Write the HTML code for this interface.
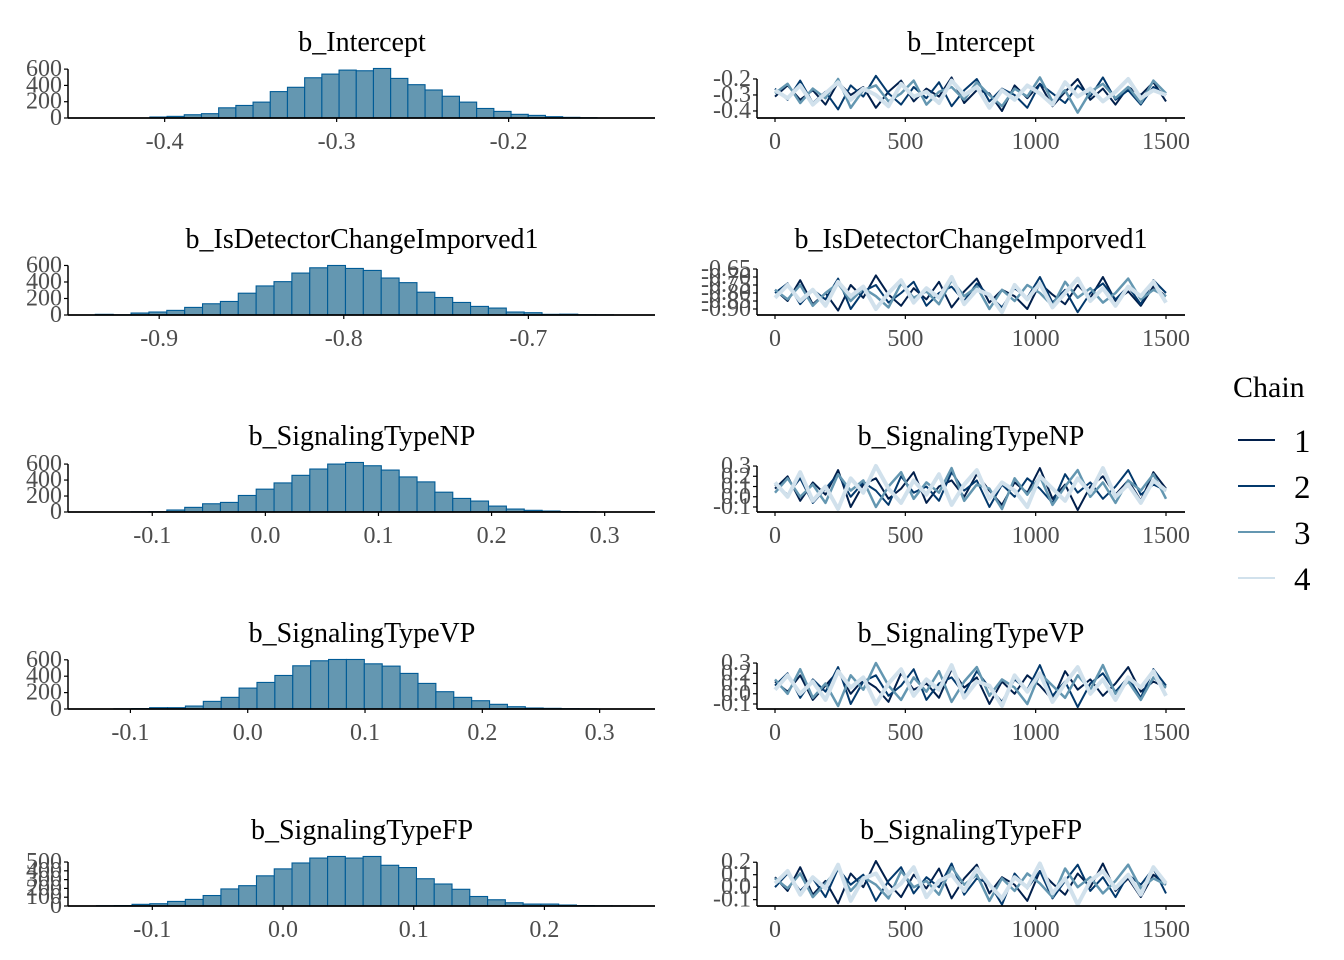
<!DOCTYPE html>
<html><head><meta charset="utf-8">
<style>
html,body{margin:0;padding:0;background:#fff;}
svg{display:block;font-family:"Liberation Serif","DejaVu Serif",serif;}
</style></head>
<body>
<svg id="chart" width="1344" height="960" viewBox="0 0 1344 960" xmlns="http://www.w3.org/2000/svg"></svg>
<script>
// ---- data ----
const paramNames = ["b_Intercept","b_IsDetectorChangeImporved1","b_SignalingTypeNP","b_SignalingTypeVP","b_SignalingTypeFP"];
const histStart = [-0.4086,-0.9346,-0.1187,-0.1141,-0.1427];
const histWidth = [0.0100,0.00968,0.0158,0.01525,0.0136];
const histCounts1 = [12,20,40,53,125,154,195,324,377,494,539,588,580,608,486,409,344,267,195,117,81,45,32,16,8,3];
const histCounts2 = [8,2,24,36,56,92,136,164,264,352,404,508,572,600,564,540,448,392,276,212,152,104,84,36,28,8,10,3,2];
const histCounts3 = [2,4,25,58,103,120,207,286,364,459,538,600,620,579,525,439,377,248,170,137,74,37,21,12,5,2];
const histCounts4 = [2,5,16,16,36,93,142,255,324,409,527,588,604,604,551,523,434,312,211,142,101,57,28,12,8,4,2];
const histCounts5 = [3,5,19,26,52,75,119,194,231,343,422,489,545,563,545,563,463,437,310,250,190,108,71,37,22,22,11,5,3,2];
const histDomain = [[-0.4562,-0.1149],[-0.9494,-0.6314],[-0.1745,0.3445],[-0.1532,0.3472],[-0.1645,0.2846]];
const histXTicks = [[-0.4,-0.3,-0.2],[-0.9,-0.8,-0.7],[-0.1,0.0,0.1,0.2,0.3],[-0.1,0.0,0.1,0.2,0.3],[-0.1,0.0,0.1,0.2]];
const histYTicks = [[0,200,400,600],[0,200,400,600],[0,200,400,600],[0,200,400,600],[0,100,200,300,400,500]];

const iterTicks = [0,500,1000,1500];
const traceYTicks = [[-0.2,-0.3,-0.4],[-0.65,-0.70,-0.75,-0.80,-0.85,-0.90],[0.3,0.2,0.1,0.0,-0.1],[0.3,0.2,0.1,0.0,-0.1],[0.2,0.1,0.0,-0.1]];
const traceDomain = [[-0.444,-0.144],[-0.9375,-0.6375],[-0.149,0.32],[-0.149,0.32],[-0.151,0.234]];

const trace1c1 = [-0.31,-0.24,-0.33,-0.27,-0.36,-0.22,-0.30,-0.25,-0.38,-0.28,-0.21,-0.34,-0.26,-0.31,-0.19,-0.35,-0.27,-0.29,-0.40,-0.24,-0.32,-0.23,-0.37,-0.28,-0.20,-0.33,-0.26,-0.36,-0.25,-0.30,-0.22,-0.34];
const trace1c2 = [-0.26,-0.33,-0.21,-0.35,-0.28,-0.39,-0.24,-0.31,-0.18,-0.29,-0.36,-0.25,-0.32,-0.22,-0.37,-0.27,-0.20,-0.34,-0.26,-0.30,-0.38,-0.23,-0.29,-0.35,-0.24,-0.31,-0.19,-0.33,-0.27,-0.36,-0.25,-0.30];
const trace1c3 = [-0.29,-0.23,-0.35,-0.26,-0.32,-0.20,-0.38,-0.27,-0.24,-0.34,-0.29,-0.21,-0.36,-0.28,-0.25,-0.33,-0.22,-0.30,-0.37,-0.26,-0.31,-0.19,-0.34,-0.27,-0.41,-0.28,-0.23,-0.32,-0.25,-0.35,-0.21,-0.29];
const trace1c4 = [-0.27,-0.32,-0.24,-0.36,-0.29,-0.22,-0.33,-0.26,-0.30,-0.37,-0.23,-0.31,-0.28,-0.35,-0.21,-0.30,-0.25,-0.38,-0.27,-0.33,-0.24,-0.29,-0.36,-0.22,-0.31,-0.26,-0.34,-0.28,-0.20,-0.32,-0.27,-0.30];
const trace2c1 = [-0.78,-0.85,-0.72,-0.87,-0.80,-0.91,-0.75,-0.83,-0.69,-0.81,-0.88,-0.77,-0.84,-0.73,-0.89,-0.79,-0.71,-0.86,-0.78,-0.82,-0.90,-0.74,-0.81,-0.87,-0.75,-0.83,-0.70,-0.85,-0.79,-0.88,-0.76,-0.82];
const trace2c2 = [-0.80,-0.74,-0.87,-0.78,-0.84,-0.71,-0.90,-0.79,-0.75,-0.86,-0.80,-0.73,-0.88,-0.80,-0.76,-0.85,-0.74,-0.82,-0.89,-0.77,-0.83,-0.70,-0.86,-0.78,-0.92,-0.80,-0.74,-0.84,-0.76,-0.87,-0.72,-0.80];
const trace2c3 = [-0.78,-0.84,-0.75,-0.88,-0.80,-0.74,-0.85,-0.77,-0.82,-0.89,-0.74,-0.83,-0.79,-0.87,-0.72,-0.82,-0.76,-0.90,-0.78,-0.85,-0.75,-0.80,-0.88,-0.73,-0.83,-0.77,-0.86,-0.80,-0.71,-0.84,-0.78,-0.82];
const trace2c4 = [-0.83,-0.75,-0.85,-0.78,-0.88,-0.73,-0.82,-0.76,-0.90,-0.80,-0.72,-0.86,-0.77,-0.83,-0.70,-0.87,-0.78,-0.81,-0.92,-0.75,-0.84,-0.74,-0.89,-0.80,-0.71,-0.85,-0.77,-0.88,-0.76,-0.82,-0.73,-0.86];
const trace3c1 = [0.08,0.20,-0.04,0.14,0.02,0.26,-0.10,0.12,0.18,-0.02,0.08,0.24,-0.06,0.10,0.16,0.00,0.22,0.06,-0.08,0.14,0.04,0.28,-0.02,0.12,-0.13,0.10,0.20,0.02,0.16,-0.04,0.24,0.08];
const trace3c2 = [0.12,0.02,0.18,-0.06,0.08,0.22,0.00,0.14,0.06,-0.08,0.20,0.04,0.10,-0.04,0.24,0.06,0.16,-0.10,0.12,0.00,0.18,0.08,-0.06,0.22,0.04,0.14,-0.02,0.10,0.26,0.02,0.12,0.06];
const trace3c3 = [0.04,0.18,0.00,0.12,-0.06,0.22,0.06,0.16,-0.10,0.10,0.24,-0.02,0.14,0.04,0.28,-0.04,0.12,0.08,-0.12,0.18,0.02,0.20,-0.08,0.10,0.26,0.00,0.14,-0.06,0.16,0.06,0.22,-0.02];
const trace3c4 = [0.14,0.00,0.24,-0.04,0.10,-0.12,0.18,0.04,0.30,0.08,-0.06,0.16,0.02,0.22,-0.08,0.12,0.26,-0.02,0.14,0.06,-0.10,0.20,0.08,-0.04,0.18,0.04,0.28,0.00,0.12,-0.06,0.16,0.06];
const trace4c1 = [0.12,0.02,0.18,-0.06,0.08,0.22,0.00,0.14,0.06,-0.08,0.20,0.04,0.10,-0.04,0.24,0.06,0.16,-0.10,0.12,0.00,0.18,0.08,-0.06,0.22,0.04,0.14,-0.02,0.10,0.26,0.02,0.12,0.06];
const trace4c2 = [0.08,0.20,-0.04,0.14,0.02,0.26,-0.10,0.12,0.18,-0.02,0.08,0.24,-0.06,0.10,0.16,0.00,0.22,0.06,-0.08,0.14,0.04,0.28,-0.02,0.12,-0.13,0.10,0.20,0.02,0.16,-0.04,0.24,0.08];
const trace4c3 = [0.14,0.00,0.24,-0.04,0.10,-0.12,0.18,0.04,0.30,0.08,-0.06,0.16,0.02,0.22,-0.08,0.12,0.26,-0.02,0.14,0.06,-0.10,0.20,0.08,-0.04,0.18,0.04,0.28,0.00,0.12,-0.06,0.16,0.06];
const trace4c4 = [0.04,0.18,0.00,0.12,-0.06,0.22,0.06,0.16,-0.10,0.10,0.24,-0.02,0.14,0.04,0.28,-0.04,0.12,0.08,-0.12,0.18,0.02,0.20,-0.08,0.10,0.26,0.00,0.14,-0.06,0.16,0.06,0.22,-0.02];
const trace5c1 = [0.08,-0.03,0.16,-0.06,0.05,-0.13,0.11,0.00,0.21,0.03,-0.08,0.10,-0.01,0.15,-0.09,0.07,0.18,-0.05,0.08,0.02,-0.11,0.13,0.03,-0.06,0.11,0.00,0.19,-0.03,0.07,-0.08,0.10,0.02];
const trace5c2 = [0.00,0.11,-0.03,0.07,-0.08,0.15,0.02,0.10,-0.11,0.05,0.16,-0.05,0.08,0.00,0.19,-0.06,0.07,0.03,-0.14,0.11,-0.01,0.13,-0.09,0.05,0.18,-0.03,0.08,-0.08,0.10,0.02,0.15,-0.05];
const trace5c3 = [0.07,-0.01,0.11,-0.08,0.03,0.15,-0.03,0.08,0.02,-0.09,0.13,0.00,0.05,-0.06,0.16,0.02,0.10,-0.11,0.07,-0.03,0.11,0.03,-0.08,0.15,0.00,0.08,-0.05,0.05,0.18,-0.01,0.07,0.02];
const trace5c4 = [0.03,0.13,-0.06,0.08,-0.01,0.18,-0.11,0.07,0.11,-0.05,0.03,0.16,-0.08,0.05,0.10,-0.03,0.15,0.02,-0.09,0.08,0.00,0.19,-0.05,0.07,-0.14,0.05,0.13,-0.01,0.10,-0.06,0.16,0.03];
const chainLabels = ["1","2","3","4"];
const chainColors = ["#011f4b","#03396c","#6497b1","#d1e1ec"];

const histCounts = [histCounts1,histCounts2,histCounts3,histCounts4,histCounts5];
const traces = [[trace1c1,trace1c2,trace1c3,trace1c4],[trace2c1,trace2c2,trace2c3,trace2c4],[trace3c1,trace3c2,trace3c3,trace3c4],[trace4c1,trace4c2,trace4c3,trace4c4],[trace5c1,trace5c2,trace5c3,trace5c4]];

// ---- drawing ----
const NS = "http://www.w3.org/2000/svg";
const svg = document.getElementById("chart");
function mk(tag, attrs, parent){
  const e = document.createElementNS(NS, tag);
  for (const k in attrs) e.setAttribute(k, attrs[k]);
  (parent||svg).appendChild(e);
  return e;
}
function fmt(v, dec){ const s = v.toFixed(dec); return s.replace(/^-0\.00?$/,"0.0"); }

const HX0 = 68, HX1 = 655, TX0 = 757, TX1 = 1185, TD0 = 775, TD1 = 1166;
const tickColor = "#4d4d4d";
const TICK_FS = 24, TITLE_FS = 28;

for (let p = 0; p < 5; p++) {
  const base = 118 + p*197;
  const top = base - 52;
  // ---------- histogram ----------
  const g = mk("g", {});
  
  
  const t = mk("text", {x:362, y:base-67, "font-size":TITLE_FS, "text-anchor":"middle", fill:"#000"}, g);
  t.textContent = paramNames[p];
  
  
  const d = histDomain[p];
  const xs = v => HX0 + (v - d[0]) / (d[1] - d[0]) * (HX1 - HX0);
  const counts = histCounts[p];
  const ymax = Math.max.apply(null, counts) * 1.05;
  const ys = v => base - v / ymax * (base - top);
  for (let i = 0; i < counts.length; i++) {
    const a = histStart[p] + i*histWidth[p];
    const x0 = xs(a), x1 = xs(a + histWidth[p]);
    const r = mk("rect", {x:x0, y:ys(counts[i]), width:Math.max(0,x1-x0), height:base-ys(counts[i]), fill:"#6497b1", stroke:"#005b96", "stroke-width":1.1}, g);
    
    
  }
  const yTicks = histYTicks[p];
  mk("line", {x1:HX0, y1:ys(yTicks[yTicks.length-1]), x2:HX0, y2:base, stroke:"#000", "stroke-width":1.5}, g);
  mk("line", {x1:HX0, y1:base, x2:HX1, y2:base, stroke:"#000", "stroke-width":1.8}, g);
  yTicks.forEach(v => {
    mk("line", {x1:HX0-4, y1:ys(v), x2:HX0, y2:ys(v), stroke:"#000", "stroke-width":1.2}, g);
    const tl = mk("text", {x:HX0-6, y:ys(v)+7, "font-size":TICK_FS, "text-anchor":"end", fill:tickColor}, g);
    tl.textContent = v;
    
    
  });
  histXTicks[p].forEach(v => {
    mk("line", {x1:xs(v), y1:base, x2:xs(v), y2:base+4, stroke:"#000", "stroke-width":1.2}, g);
    const tl = mk("text", {x:xs(v), y:base+31, "font-size":TICK_FS, "text-anchor":"middle", fill:tickColor}, g);
    tl.textContent = fmt(v,1);
    
    
  });

  // ---------- trace ----------
  const g2 = mk("g", {});
  
  
  const t2 = mk("text", {x:971, y:base-67, "font-size":TITLE_FS, "text-anchor":"middle", fill:"#000"}, g2);
  t2.textContent = paramNames[p];
  
  
  const td = traceDomain[p];
  const tys = v => base - (v - td[0]) / (td[1] - td[0]) * 48;
  const txs = i => TD0 + i / 1500 * (TD1 - TD0);
  const widths = [2, 2, 2.5, 4];
  traces[p].forEach((arr, c) => {
    const pts = arr.map((v, i) => txs(i * 1500 / (arr.length - 1)).toFixed(1) + "," + tys(v).toFixed(1)).join(" ");
    const pl = mk("polyline", {points:pts, fill:"none", stroke:chainColors[c], "stroke-width":widths[c], "stroke-linejoin":"round"}, g2);
    
    
  });
  const tt = traceYTicks[p];
  const dec = p === 1 ? 2 : 1;
  mk("line", {x1:TX0, y1:Math.min.apply(null, tt.map(tys)), x2:TX0, y2:base, stroke:"#000", "stroke-width":1.5}, g2);
  mk("line", {x1:TX0, y1:base, x2:TX1, y2:base, stroke:"#000", "stroke-width":1.8}, g2);
  tt.forEach(v => {
    mk("line", {x1:TX0-4, y1:tys(v), x2:TX0, y2:tys(v), stroke:"#000", "stroke-width":1.2}, g2);
    const tl = mk("text", {x:TX0-6, y:tys(v)+7, "font-size":TICK_FS, "text-anchor":"end", fill:tickColor}, g2);
    tl.textContent = fmt(v, dec);
    
    
  });
  iterTicks.forEach(v => {
    mk("line", {x1:txs(v), y1:base, x2:txs(v), y2:base+4, stroke:"#000", "stroke-width":1.2}, g2);
    const tl = mk("text", {x:txs(v), y:base+31, "font-size":TICK_FS, "text-anchor":"middle", fill:tickColor}, g2);
    tl.textContent = v;
    
    
  });
}

// ---------- legend ----------
const lg = mk("g", {});


const lt = mk("text", {x:1233, y:397, "font-size":30, fill:"#000"}, lg);
lt.textContent = "Chain";


chainLabels.forEach((lab, i) => {
  const y = 440 + i*46;
  const ln = mk("line", {x1:1238, y1:y, x2:1275, y2:y, stroke:chainColors[i], "stroke-width":2}, lg);
  
  
  const tx = mk("text", {x:1294, y:y+12, "font-size":33, fill:"#000"}, lg);
  tx.textContent = lab;
  
  
});
</script>
</body></html>
